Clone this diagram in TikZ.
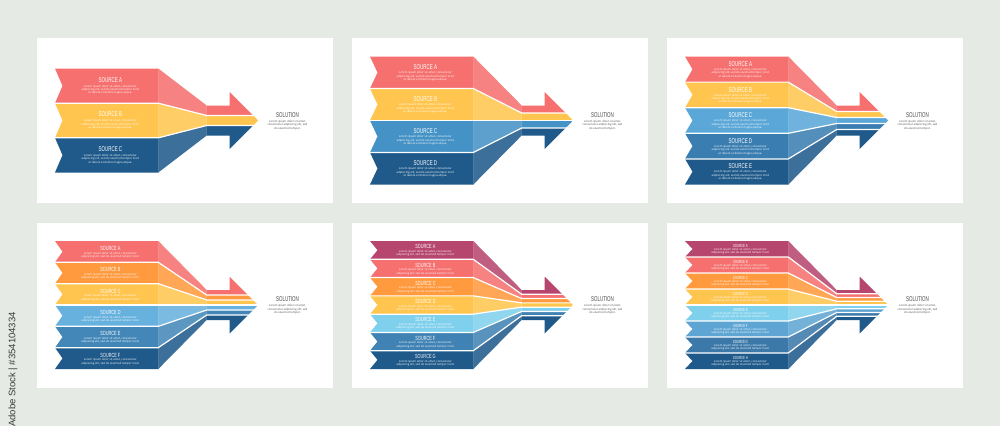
\documentclass[tikz,border=0pt]{standalone}
\usepackage{fontspec}
\setmainfont{Open Sans}
\newfontfamily\headfont[FakeStretch=0.64]{Liberation Sans}
\newfontfamily\idfont{Liberation Sans}
\usetikzlibrary{positioning}

\definecolor{bgpage}{HTML}{E5EAE5}
\definecolor{cplum}{HTML}{B7466F}
\definecolor{cred}{HTML}{F5706E}
\definecolor{corange}{HTML}{FF9A3E}
\definecolor{cyellow}{HTML}{FFC54E}
\definecolor{ccyan}{HTML}{7FD0EC}
\definecolor{cblueA}{HTML}{5AA7D8}
\definecolor{cblueB}{HTML}{4592C6}
\definecolor{cblueC}{HTML}{3A7DB0}
\definecolor{cblueD}{HTML}{67B1DE}
\definecolor{cblueE}{HTML}{4387B8}
\definecolor{cblueF}{HTML}{3F82B3}
\definecolor{cblueG}{HTML}{5EA5D3}
\definecolor{cblueH}{HTML}{3C79A9}
\definecolor{cnavy}{HTML}{1F5A8A}
\definecolor{soltxt}{HTML}{4A4A4A}
\definecolor{idtxt}{HTML}{3A3A3A}

% shape of one funnel arrow (local panel units)
\newcommand{\fanL}{18}
\newcommand{\fanN}{7.5}
\newcommand{\fanF}{121.3}
\newcommand{\fanM}{169.7}
\newcommand{\fanH}{192.5}
\newcommand{\fanR}{28.5}
\newcommand{\fanT}{221}
\newcommand{\fanC}{82.5}
\newcommand{\fanS}{15}

\newcommand{\loremlong}{Lorem ipsum dolor sit amet, consectetur\\adipiscing elit, sed do eiusmod tempor incid\\ut labore et dolore magna aliqua.}
\newcommand{\loremshort}{Lorem ipsum dolor sit amet, consectetur\\adipiscing elit, sed do eiusmod tempor incid.}

\tikzset{
	panelbg/.style={fill=white},
	seam/.style={draw=white, line width=1.2pt},
	srctitle/.style={text=white, inner sep=0pt},
	srctext/.style={text=white, inner sep=0pt, align=center, font=\fontsize{2.8}{3.4}\selectfont},
	soltitle/.style={text=soltxt, inner sep=0pt, font=\headfont\fontsize{7}{7}\selectfont},
	soltext/.style={text=soltxt, inner sep=0pt, align=center, font=\fontsize{2.8}{3.4}\selectfont},
	idtext/.style={text=idtxt, inner sep=0pt, font=\idfont\fontsize{9.5}{9.5}\selectfont}
}

% #1,#2 origin  #3 bands  #4 top  #5 gap  #6 colour/letter  #7 title size  #8 text  #9 title shift
\newcommand{\fanpanel}[9]{%
	\begin{scope}[shift={(#1,#2)}]
		\fill[panelbg] (0,0) rectangle (296,165);
		\foreach \col/\ltr [count=\k from 0] in {#6}{
			\pgfmathsetmacro\ya{#4+\k*2*(\fanC-#4)/#3}
			\pgfmathsetmacro\yb{#4+(\k+1)*2*(\fanC-#4)/#3}
			\pgfmathsetmacro\ym{(\ya+\yb)/2}
			\pgfmathsetmacro\sa{\fanC-\fanS+\k*2*\fanS/#3}
			\pgfmathsetmacro\sb{\fanC-\fanS+(\k+1)*2*\fanS/#3}
			\pgfmathsetmacro\ha{\k==0 ? \fanC-\fanR : \sa}
			\pgfmathsetmacro\hb{\k==#3-1 ? \fanC+\fanR : \sb}
			% front face
			\fill[\col] (\fanL,\ya) -- (\fanF+0.4,\ya) -- (\fanF+0.4,\yb) -- (\fanL,\yb) -- (\fanL+\fanN,\ym) -- cycle;
			% shaft and head
			\begin{scope}
				\clip (\fanM-0.4,\fanC-\fanS) -- (\fanH,\fanC-\fanS) -- (\fanH,\fanC-\fanR) -- (\fanT,\fanC)
					-- (\fanH,\fanC+\fanR) -- (\fanH,\fanC+\fanS) -- (\fanM-0.4,\fanC+\fanS) -- cycle;
				\fill[\col] (\fanM-0.4,\ha) rectangle (\fanT,\hb);
			\end{scope}
			% sloped face
			\fill[\col!87!white] (\fanF,\ya) -- (\fanM,\sa) -- (\fanM,\sb) -- (\fanF,\yb) -- cycle;
			\ifnum\k>0
				\draw[seam] (\fanL,\ya) -- (\fanF,\ya) -- (\fanM,\sa) -- (\fanT,\sa);
			\fi
			\node[srctitle, font={\headfont\fontsize{#7}{#7}\selectfont}] (src#3-\ltr)
				at ({(\fanL+\fanN+\fanF)/2},\ym+#9) {SOURCE \ltr};
			\node[srctext, below=#5pt of src#3-\ltr] (txt#3-\ltr) {#8};
		}
		\node[soltitle] (sol#3) at (250.5,77) {SOLUTION};
		\node[soltext, below=2.2pt of sol#3] (soltxt#3) {Lorem ipsum dolor sit amet,\\consectetur adipiscing elit, sed\\do eiusmod tempor.};
	\end{scope}}

\begin{document}
\begin{tikzpicture}[x=1pt, y=-1pt]
	\fill[bgpage] (0,0) rectangle (1000,426);
	\useasboundingbox (0,0) rectangle (1000,426);
	\fanpanel{37}{38}{3}{30.5}{2.2}{cred/A,cyellow/B,cnavy/C}{7}{\loremlong}{-6}
	\fanpanel{352}{38}{4}{18.5}{1.8}{cred/A,cyellow/B,cblueB/C,cnavy/D}{7}{\loremlong}{-5.5}
	\fanpanel{667}{38}{5}{18.5}{1.4}{cred/A,cyellow/B,cblueA/C,cblueC/D,cnavy/E}{7}{\loremlong}{-5.2}
	\fanpanel{37}{222.5}{6}{18.5}{1.2}{cred/A,corange/B,cyellow/C,cblueD/D,cblueE/E,cnavy/F}{6}{\loremshort}{-3.4}
	\fanpanel{352}{222.5}{7}{18.5}{1}{cplum/A,cred/B,corange/C,cyellow/D,ccyan/E,cblueF/F,cnavy/G}{6}{\loremshort}{-3.4}
	\fanpanel{667}{222.5}{8}{18.5}{0.7}{cplum/A,cred/B,corange/C,cyellow/D,ccyan/E,cblueG/F,cblueH/G,cnavy/H}{4.4}{\loremshort}{-3.3}
	\node[idtext, rotate=90, anchor=east] (stockid) at (13,312) {Adobe Stock | \#354104334};
\end{tikzpicture}
\end{document}
